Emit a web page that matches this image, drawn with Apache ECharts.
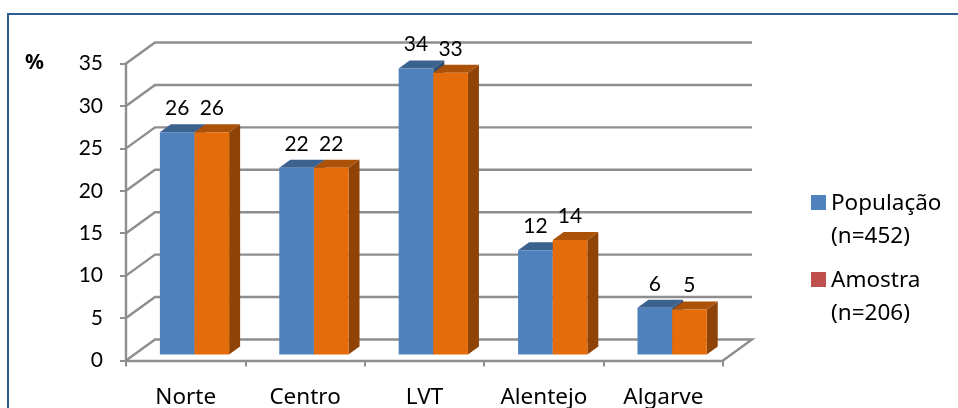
<!DOCTYPE html>
<html lang="en">
<head>
    <meta charset="UTF-8">
    <title>Regiao</title>
    <style>
        html,body{
            height: 100%;
            margin: 0;
            background: #fff;
        }
        #main{
            width: 958px;
            height: 408px;
        }
    </style>
</head>
<body>
<script src="https://cdn.jsdelivr.net/npm/echarts@6/dist/echarts.min.js"></script>
<div id="main"></div>
<script>
    var categories = ['Norte', 'Centro', 'LVT', 'Alentejo', 'Algarve'];
    var populacao = [26.2, 22, 33.7, 12.3, 5.5];
    var amostra = [26.2, 22, 33.2, 13.5, 5.3];
    var yTicks = [0, 5, 10, 15, 20, 25, 30, 35];

    var wordFont = 'Noto Sans';
    var digitFont = 'Lato';
    var gridColor = '#8e8e8e';
    // 3D look: depth of the back wall and of a bar, in px
    var wallDx = 29, wallDy = -21;
    var barDx = 11, barDy = -8;

    function poly(points, fill) {
        return {type: 'polygon', shape: {points: points}, style: {fill: fill}};
    }

    // floor and back wall, one line per y tick
    function renderWall(params, api) {
        var r = params.coordSys;
        var y = api.coord([0, api.value(0)])[1];
        var left = r.x, right = r.x + r.width;
        var points = [[left, y], [left + wallDx, y + wallDy], [right + wallDx, y + wallDy]];
        if (api.value(0) === 0) {
            points.push([right, y]);
        }
        return {
            type: 'polyline',
            shape: {points: points},
            style: {stroke: gridColor, lineWidth: 2.4, fill: null}
        };
    }

    function barRenderer(side, front, top, dark) {
        return function (params, api) {
            var band = api.size([1, 0])[0];
            var w = band * 0.29;
            var p = api.coord([api.value(0), api.value(1)]);
            var base = api.coord([api.value(0), 0]);
            var x0 = p[0] + 8.8 + (side < 0 ? -w : 0);
            var x1 = x0 + w;
            var y0 = p[1] - 6;
            var y1 = base[1] - 6;
            return {
                type: 'group',
                children: [
                    poly([[x1, y0], [x1 + barDx, y0 + barDy], [x1 + barDx, y1 + barDy], [x1, y1]], dark),
                    poly([[x0, y0], [x0 + barDx, y0 + barDy], [x1 + barDx, y0 + barDy], [x1, y0]], top),
                    {type: 'rect', shape: {x: x0, y: y0, width: w, height: y1 - y0}, style: {fill: front}},
                    {
                        type: 'text',
                        style: {
                            x: (x0 + x1) / 2,
                            y: y0 - 24,
                            text: String(Math.round(api.value(1))),
                            fill: '#000',
                            font: '21px ' + digitFont,
                            align: 'center',
                            verticalAlign: 'middle'
                        }
                    }
                ]
            };
        };
    }

    var legendIcon = 'path://M0 0L0 0M0 66L0 66M0 8H15V23H0Z';

    var chart = echarts.init(document.getElementById('main'));
    var option = {
        animation: false,
        backgroundColor: '#fff',
        grid: {left: 126, top: 63.5, width: 597, height: 297, outerBoundsMode: 'none'},
        xAxis: {
            type: 'category',
            data: categories,
            axisLine: {lineStyle: {color: gridColor, width: 2.4}},
            axisTick: {show: true, length: 6, lineStyle: {color: gridColor, width: 2}},
            axisLabel: {color: '#000', fontFamily: wordFont, fontSize: 22.5, margin: 26},
            splitLine: {show: false}
        },
        yAxis: {
            type: 'value',
            min: 0,
            max: 35,
            interval: 5,
            axisLine: {show: true, lineStyle: {color: gridColor, width: 2.4}},
            axisTick: {show: true, length: 6, lineStyle: {color: gridColor, width: 2}},
            axisLabel: {color: '#000', fontFamily: digitFont, fontSize: 21, margin: 23, padding: [7, 0, 0, 0]},
            splitLine: {show: false}
        },
        legend: {
            orient: 'vertical',
            left: 811,
            top: 187,
            padding: 0,
            itemWidth: 15,
            itemHeight: 66,
            itemGap: 11,
            icon: legendIcon,
            textStyle: {color: '#000', fontFamily: wordFont, fontSize: 22.5, lineHeight: 33},
            data: [
                {name: 'População\n(n=452)', itemStyle: {color: '#4f81bd'}},
                {name: 'Amostra\n(n=206)', itemStyle: {color: '#c0504d'}}
            ]
        },
        graphic: [
            {
                type: 'rect',
                shape: {x: 8, y: 14, width: 970, height: 420},
                style: {fill: 'none', stroke: '#2f5b94', lineWidth: 2},
                silent: true
            },
            {
                type: 'text',
                left: 25,
                top: 53,
                style: {text: '%', fill: '#000', font: 'bold 21px ' + wordFont}
            }
        ],
        series: [
            {
                type: 'custom',
                name: 'wall',
                data: yTicks.map(function (t) { return [t]; }),
                encode: {y: 0},
                renderItem: renderWall,
                silent: true,
                z: 1
            },
            {
                type: 'custom',
                name: 'População\n(n=452)',
                data: populacao.map(function (v, i) { return [i, v]; }),
                encode: {x: 0, y: 1},
                renderItem: barRenderer(-1, '#4f81bd', '#3b618e', '#2f4e72'),
                z: 3
            },
            {
                type: 'custom',
                name: 'Amostra\n(n=206)',
                data: amostra.map(function (v, i) { return [i, v]; }),
                encode: {x: 0, y: 1},
                renderItem: barRenderer(1, '#e46c0a', '#ab5108', '#8f4306'),
                z: 4
            }
        ]
    };
    chart.setOption(option);
</script>
</body>
</html>
